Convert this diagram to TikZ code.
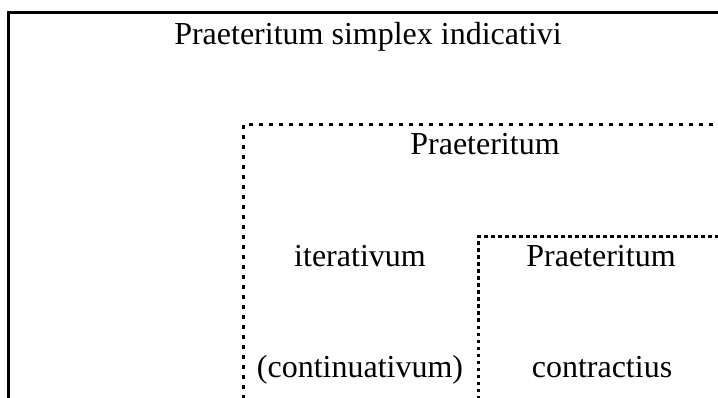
\documentclass[tikz,border=0pt]{standalone}
\usepackage{fontspec}
\setmainfont{Liberation Serif}
\begin{document}
\begin{tikzpicture}[x=1pt,y=-1pt,
  lbl/.style={anchor=base,inner sep=0pt,font=\fontsize{32}{38}\selectfont},
  solidline/.style={line width=3pt},
  dotA/.style={line width=3pt,dash pattern=on 4pt off 6pt},
  dotB/.style={line width=3pt,dash pattern=on 3.5pt off 3.5pt}]
\useasboundingbox (0,0) rectangle (718,398);
% frame corners
\coordinate (oBL) at (8,399);
\coordinate (oTL) at (8,13);
\coordinate (oTR) at (719,13);
\coordinate (aBL) at (243,399);
\coordinate (aTL) at (243,125);
\coordinate (aTR) at (719,125);
\coordinate (bBL) at (478,399);
\coordinate (bTL) at (478,237);
\coordinate (bTR) at (719,237);
\draw[solidline] (oBL) -- (oTL) -- (oTR);
\draw[dotA] (aBL) -- (aTL) -- (aTR);
\draw[dotB] (bBL) -- (bTL) -- (bTR);
% labels
\node[lbl] (t1) at (368,45) {Praeteritum simplex indicativi};
\node[lbl] (t2) at (485,155) {Praeteritum};
\node[lbl] (t3) at (360,267) {iterativum};
\node[lbl] (t4) at (601,267) {Praeteritum};
\node[lbl] (t5) at (360,377) {(continuativum)};
\node[lbl] (t6) at (602,377) {contractius};
\end{tikzpicture}
\end{document}
